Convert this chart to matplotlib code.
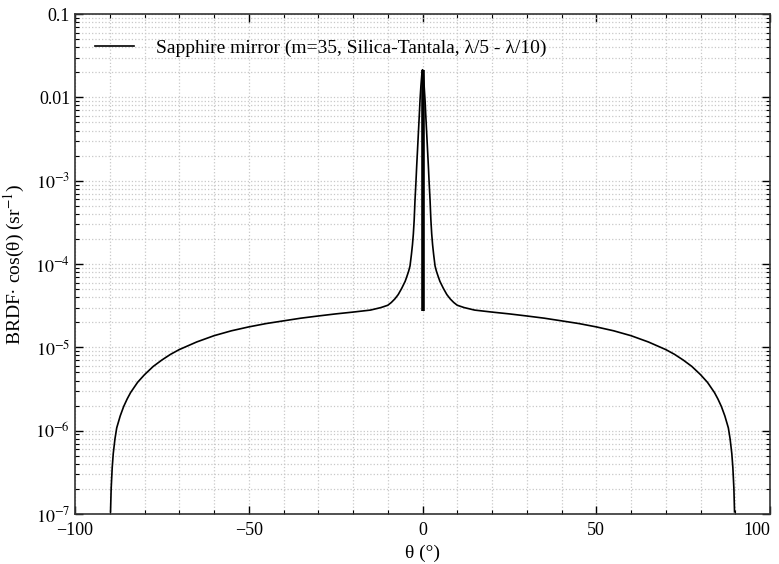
import matplotlib
matplotlib.use('Agg')
import matplotlib.pyplot as plt
from matplotlib.ticker import FixedLocator, FuncFormatter, MultipleLocator, LogLocator, NullFormatter

plt.rcParams['font.family'] = ['Liberation Serif', 'DejaVu Serif']
plt.rcParams['mathtext.fontset'] = 'stix'
plt.rcParams['font.size'] = 13

# BRDF*cos(theta) (sr^-1), negative angles
theta_left = [-89.78, -89.6, -89.3, -89.0, -88.5, -88.0, -87.0, -86.0, -85.0, -84.0,
              -82.0, -80.0, -77.5, -75.0, -72.5, -70.0, -65.0, -60.0, -55.0, -50.0,
              -45.0, -40.0, -35.0, -30.0, -25.0, -20.0, -15.0, -12.0, -10.0, -9.0,
              -8.0, -7.0, -6.0, -5.0, -4.5, -4.0, -3.6, -3.2, -2.9, -2.64,
              -2.4, -2.16, -1.9, -1.68, -1.45, -1.2, -0.95, -0.72, -0.45, -0.2]
brdf_left = [1.06e-7, 2.0e-7, 3.6e-7, 5.3e-7, 8.0e-7, 1.08e-6, 1.5e-6, 1.95e-6, 2.4e-6, 2.87e-6,
             3.8e-6, 4.7e-6, 5.9e-6, 7.05e-6, 8.25e-6, 9.4e-6, 1.16e-5, 1.38e-5, 1.58e-5, 1.76e-5,
             1.93e-5, 2.08e-5, 2.24e-5, 2.38e-5, 2.52e-5, 2.65e-5, 2.8e-5, 3.0e-5, 3.2e-5, 3.45e-5,
             3.8e-5, 4.3e-5, 5.1e-5, 6.2e-5, 7.1e-5, 8.2e-5, 9.5e-5, 1.3e-4, 1.7e-4, 2.3e-4,
             3.4e-4, 5.9e-4, 9.5e-4, 1.5e-3, 2.3e-3, 3.7e-3, 5.9e-3, 9.3e-3, 1.4e-2, 1.9e-2]
theta_peak = [0.0]
brdf_peak = [2.15e-2]
# positive angles
theta_right = [0.2, 0.45, 0.72, 0.95, 1.2, 1.45, 1.68, 1.9, 2.16, 2.4,
               2.64, 2.9, 3.2, 3.6, 4.0, 4.5, 5.0, 6.0, 7.0, 8.0,
               9.0, 10.0, 12.0, 15.0, 20.0, 25.0, 30.0, 35.0, 40.0, 45.0,
               50.0, 55.0, 60.0, 65.0, 70.0, 72.5, 75.0, 77.5, 80.0, 82.0,
               84.0, 85.0, 86.0, 87.0, 88.0, 88.5, 89.0, 89.3, 89.6, 89.78]
brdf_right = [1.9e-2, 1.4e-2, 9.3e-3, 5.9e-3, 3.7e-3, 2.3e-3, 1.5e-3, 9.5e-4, 5.9e-4, 3.4e-4,
              2.3e-4, 1.7e-4, 1.3e-4, 9.5e-5, 8.2e-5, 7.1e-5, 6.2e-5, 5.1e-5, 4.3e-5, 3.8e-5,
              3.45e-5, 3.2e-5, 3.0e-5, 2.8e-5, 2.65e-5, 2.52e-5, 2.38e-5, 2.24e-5, 2.08e-5, 1.93e-5,
              1.76e-5, 1.58e-5, 1.38e-5, 1.16e-5, 9.4e-6, 8.25e-6, 7.05e-6, 5.9e-6, 4.7e-6, 3.8e-6,
              2.87e-6, 2.4e-6, 1.95e-6, 1.5e-6, 1.08e-6, 8.0e-7, 5.3e-7, 3.6e-7, 2.0e-7, 1.06e-7]

# specular spike at normal incidence
spike_theta = 0.0
spike_low = 2.75e-5
spike_high = 2.15e-2

label = 'Sapphire mirror (m=35, Silica-Tantala, λ/5 - λ/10)'
xtick_vals = [-100, -50, 0, 50, 100]
xtick_text = ['\u2212100', '\u221250', '0', '50', '100']
ytick_vals = [1e-7, 1e-6, 1e-5, 1e-4, 1e-3, 1e-2, 1e-1]
ytick_text = ['$10^{-7}$', '$10^{-6}$', '$10^{-5}$', '$10^{-4}$', '$10^{-3}$', '0.01', '0.1']

theta = theta_left + theta_peak + theta_right
brdf = brdf_left + brdf_peak + brdf_right

fig = plt.figure(figsize=(7.79, 5.64), dpi=100)
ax = fig.add_axes([0.0963, 0.0887, 0.8922, 0.8863])

ax.plot(theta, brdf, color='black', lw=1.2, label=label)
ax.vlines(spike_theta, spike_low, spike_high, color='black', lw=2.6)

ax.set_yscale('log')
ax.set_xlim(-100, 100)
ax.set_ylim(1e-7, 0.1)

ax.set_xticks(xtick_vals, xtick_text)
ax.xaxis.set_minor_locator(MultipleLocator(10))
ax.set_yticks(ytick_vals, ytick_text)
ax.yaxis.set_minor_locator(LogLocator(base=10, subs=range(2, 10), numticks=20))
ax.yaxis.set_minor_formatter(NullFormatter())

ax.tick_params(which='both', direction='in', top=True, right=True, labelsize=13)
ax.tick_params(which='major', length=6, width=1)
ax.tick_params(which='minor', length=3, width=0.8)
ax.tick_params(axis='x', pad=6)

# the reference keeps "100" inside the figure
for t in ax.get_xticklabels():
    if t.get_text() == '100':
        t.set_horizontalalignment('right')
        t.set_x(100)

ax.grid(which='both', linestyle=':', color='#c8c8c8', lw=0.9)
for s in ax.spines.values():
    s.set_linewidth(1.2)
    s.set_color('#333333')

ax.set_xlabel('θ (°)', fontsize=14)
ax.set_ylabel('BRDF· cos(θ) (sr$^{-1}$)', fontsize=14, labelpad=6)

ax.legend(loc='upper left', frameon=False, handlelength=2.0, handletextpad=1.1,
          fontsize=14, bbox_to_anchor=(0.004, 0.985))

fig.savefig('out.png', dpi=100)
